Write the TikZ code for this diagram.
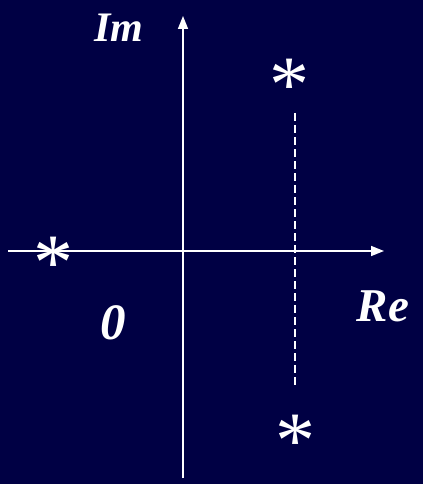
\documentclass[tikz,border=0pt]{standalone}
\usepackage{fontspec}
\setmainfont{Liberation Serif}
\usetikzlibrary{arrows.meta}
\definecolor{bgnavy}{RGB}{0,0,68}
\tikzset{
  axis/.style={white, line width=1.6pt, -{Triangle[length=13pt,width=10pt]}},
  lbl/.style={text=white, font=\bfseries\itshape\fontsize{44}{44}\selectfont, inner sep=0pt},
  star/.style={text=white, font=\fontsize{80}{80}\selectfont, inner sep=0pt},
  guide/.style={white, line width=1.6pt, dash pattern=on 8pt off 4pt}
}
\begin{document}
\begin{tikzpicture}[x=1pt,y=-1pt]
\fill[bgnavy] (0,0) rectangle (423,484);
\useasboundingbox (0,0) rectangle (423,484);
\coordinate (xs) at (8,251);
\coordinate (xe) at (384,251);
\coordinate (ys) at (183,478);
\coordinate (ye) at (183,16);
\coordinate (ds) at (295,113);
\coordinate (de) at (295,385);
\draw[axis] (xs) -- (xe);
\draw[axis] (ys) -- (ye);
\draw[guide] (ds) -- (de);
\node[lbl, font=\bfseries\itshape\fontsize{42}{42}\selectfont] (im) at (119,28) {Im};
\node[lbl, font=\bfseries\itshape\fontsize{47}{47}\selectfont] (re) at (383,306) {Re};
\node[lbl, font=\bfseries\itshape\fontsize{51}{51}\selectfont] (zero) at (113,323) {0};
\node[star] (s1) at (289,85) {*};
\node[star] (s2) at (53,263) {*};
\node[star] (s3) at (295,441) {*};
\end{tikzpicture}
\end{document}
